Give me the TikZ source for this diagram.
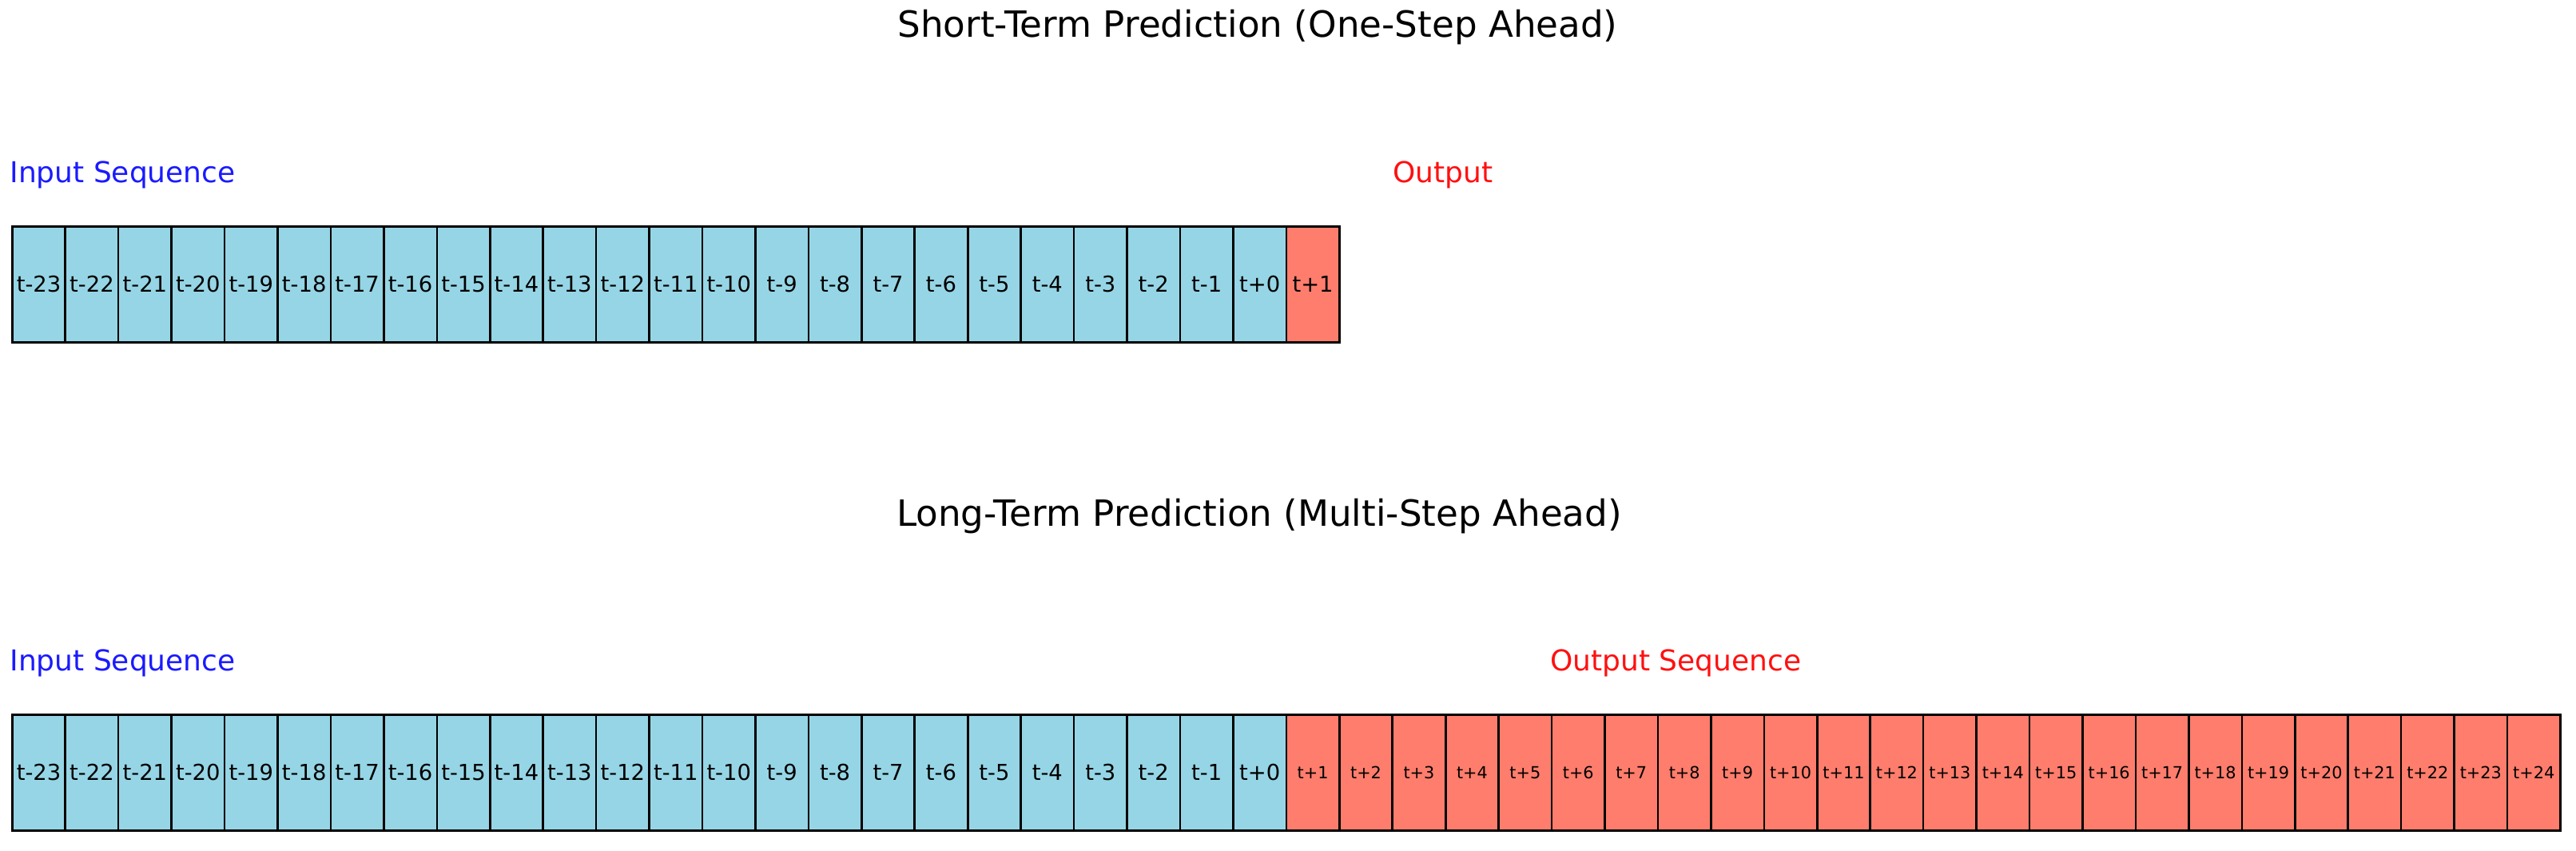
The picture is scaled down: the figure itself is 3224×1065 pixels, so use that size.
\documentclass[tikz,border=0pt]{standalone}
\usepackage{fontspec}
\setmainfont{DejaVu Sans}
\definecolor{inblue}{HTML}{96D5E5}
\definecolor{outred}{HTML}{FF7D6C}
\definecolor{lblblue}{HTML}{1A1AFF}
\definecolor{lblred}{HTML}{FF1010}
\tikzset{
  cell/.style={draw=black, line width=1.3pt, minimum width=33.22pt, minimum height=72.5pt, inner sep=0pt, anchor=north west},
  incell/.style={cell, fill=inblue, font=\fontsize{13.7}{16}\selectfont},
  outcellbig/.style={cell, fill=outred, font=\fontsize{13.7}{16}\selectfont},
  outcellsmall/.style={cell, fill=outred, font=\fontsize{10.4}{12}\selectfont},
  titletext/.style={anchor=base, inner sep=0pt, font=\fontsize{22.6}{26}\selectfont},
  seqlabel/.style={anchor=base west, inner sep=0pt, font=\fontsize{18}{21}\selectfont}
}
\begin{document}
\begin{tikzpicture}[x=0.5pt,y=-0.5pt]
\useasboundingbox (0,0) rectangle (3224,1065);
% titles
\node[titletext] (t1) at (1574,47) {Short-Term Prediction (One-Step Ahead)};
\node[titletext] (t2) at (1576,658) {Long-Term Prediction (Multi-Step Ahead)};
% labels
\node[seqlabel, text=lblblue] (in1) at (12,228) {Input Sequence};
\node[seqlabel, text=lblred] (out1) at (1743,228) {Output};
\node[seqlabel, text=lblblue] (in2) at (12,839) {Input Sequence};
\node[seqlabel, text=lblred] (out2) at (1940,839) {Output Sequence};
% short-term row
\foreach \i in {1,...,24}{
  \pgfmathtruncatemacro\k{\i-24}
  \ifnum\k<0
    \node[incell] (s\i) at ({14+(\i-1)*66.44},282) {t\k};
  \else
    \node[incell] (s\i) at ({14+(\i-1)*66.44},282) {t+\k};
  \fi
}
\node[outcellbig] (s25) at ({14+24*66.44},282) {t+1};
% long-term row
\foreach \i in {1,...,24}{
  \pgfmathtruncatemacro\k{\i-24}
  \ifnum\k<0
    \node[incell] (l\i) at ({14+(\i-1)*66.44},893) {t\k};
  \else
    \node[incell] (l\i) at ({14+(\i-1)*66.44},893) {t+\k};
  \fi
}
\foreach \i in {25,...,48}{
  \pgfmathtruncatemacro\k{\i-24}
  \node[outcellsmall] (l\i) at ({14+(\i-1)*66.44},893) {t+\k};
}
\end{tikzpicture}
\end{document}
